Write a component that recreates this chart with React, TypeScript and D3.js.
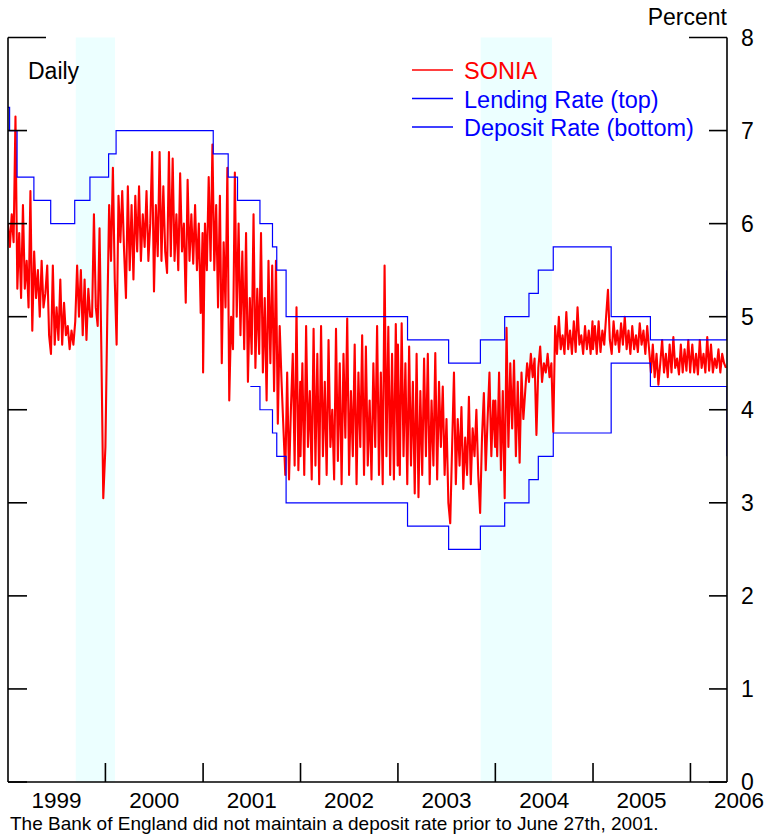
import React from "react";
import * as d3 from "d3";

// Weekly readings of SONIA (percent), each year starting at Jan 1, step 7 days
const soniaStepDays = 7;
const sonia1999 = [6.0,5.75,6.1,5.8,7.15,5.3,5.9,5.2,6.2,5.3,5.6,5.1,6.35,4.85,5.7,5.2,5.5,5.0,5.6,5.1,5.25,5.55,4.8,4.6,5.55,4.7,5.1,4.75,5.4,4.7,5.15,4.8,4.9,4.65,4.85,4.7,4.95,5.55,5.0,5.5,4.8,5.4,4.75,5.3,5.0,5.0,6.1,5.1,4.9,5.95,4.6,3.05];
const sonia2000 = [3.6,5.0,6.2,5.6,6.6,5.4,4.7,6.3,5.8,6.35,5.7,5.2,6.4,5.5,6.2,5.4,6.3,5.7,6.4,5.6,6.1,5.75,6.35,5.6,6.0,6.77,5.27,6.2,5.65,6.77,5.6,6.4,5.7,5.47,6.77,5.65,6.7,5.6,6.1,5.5,6.54,5.7,6.0,5.15,6.47,5.6,6.1,5.57,6.2,5.5,6.0,5.04,5.9];
const sonia2001 = [4.4,6.0,5.5,6.5,5.6,6.85,5.5,6.2,5.1,6.3,4.5,5.8,5.1,6.6,4.1,5.0,4.65,6.55,5.0,6.0,4.8,5.7,4.65,5.9,4.3,5.2,4.6,6.1,4.45,5.3,4.6,5.9,4.4,5.2,4.1,5.6,4.5,5.55,4.2,5.6,3.85,4.9,4.3,3.8,3.3,4.4,3.25,4.0,4.6,3.4,5.1,3.35,4.3];
const sonia2002 = [3.5,4.5,3.3,4.9,3.6,4.2,3.25,4.87,3.4,4.6,3.2,4.9,3.5,4.3,3.3,4.75,3.6,4.0,3.25,4.87,3.45,4.5,3.2,4.6,3.7,4.98,3.3,4.2,3.5,4.7,3.2,4.4,3.6,4.8,3.3,4.68,3.4,4.1,3.25,4.5,3.6,4.9,3.3,4.4,3.2,5.55,3.5,4.89,3.3,4.6,3.25,4.92,3.4];
const sonia2003 = [4.7,3.3,4.93,3.5,4.5,3.2,4.68,3.4,4.3,3.1,4.6,3.06,4.2,3.3,4.55,3.5,4.6,3.2,4.1,3.4,4.61,3.25,4.3,3.6,4.25,3.3,3.9,3.0,2.78,3.6,4.4,3.2,3.9,3.4,4.03,3.15,3.7,3.3,4.14,3.2,3.8,3.5,4.0,3.3,2.89,3.7,4.18,3.35,3.9,4.4,3.5,4.1,3.6];
const sonia2004 = [4.1,3.5,4.4,3.35,4.2,3.05,4.88,3.6,4.5,3.8,4.53,3.5,4.3,3.43,4.4,3.9,4.2,4.5,4.3,4.6,4.35,4.55,3.73,4.45,4.68,4.3,4.5,4.4,4.6,4.35,4.5,3.76,4.9,4.6,5.0,4.65,4.8,4.6,5.05,4.65,4.85,4.6,4.95,4.62,5.1,4.7,4.8,4.6,4.9,4.65,4.85,4.6,4.95];
const sonia2005 = [4.65,4.9,4.6,4.95,4.62,4.85,4.7,5.0,5.29,4.75,4.6,4.95,4.7,4.85,4.62,4.93,4.7,5.0,4.65,4.85,4.6,4.9,4.65,4.8,4.62,4.93,4.7,4.85,4.6,4.9,4.65,4.4,4.7,4.35,4.6,4.27,4.5,4.75,4.4,4.6,4.35,4.7,4.4,4.78,4.45,4.55,4.38,4.7,4.4,4.65,4.42,4.75,4.4];
const sonia2006 = [4.45,4.7,4.4,4.6,4.38,4.75,4.45,4.6,4.4,4.78,4.42,4.7,4.4,4.55,4.45,4.65,4.4,4.6,4.5,4.45];
const soniaYears = [1999, 2000, 2001, 2002, 2003, 2004, 2005, 2006];

// Standing facility rates (step changes)
const lendingDates = ["1999-01-01","1999-01-07","1999-02-04","1999-04-08","1999-06-10","1999-09-08","1999-11-04","2000-01-13","2000-02-10","2001-02-08","2001-04-05","2001-05-10","2001-08-02","2001-09-18","2001-10-04","2001-11-08","2003-02-06","2003-07-10","2003-11-06","2004-02-05","2004-05-06","2004-06-10","2004-08-05","2005-03-10","2005-08-04","2006-05-18"];
const lendingValues = [7.25,7.0,6.5,6.25,6.0,6.25,6.5,6.75,7.0,6.75,6.5,6.25,6.0,5.75,5.5,5.0,4.75,4.5,4.75,5.0,5.25,5.5,5.75,5.0,4.75,5.5];
const depositDates = ["2001-06-27","2001-08-02","2001-09-18","2001-10-04","2001-11-08","2003-02-06","2003-07-10","2003-11-06","2004-02-05","2004-05-06","2004-06-10","2004-08-05","2005-03-10","2005-08-04","2006-05-18"];
const depositValues = [4.25,4.0,3.75,3.5,3.0,2.75,2.5,2.75,3.0,3.25,3.5,3.75,4.5,4.25,3.5];

// Shaded periods
const shadeStarts = ["1999-09-12","2003-11-07"];
const shadeEnds = ["2000-02-06","2004-07-31"];

const yearLabels = ["1999","2000","2001","2002","2003","2004","2005","2006"];
const yearTicks = ["2000","2001","2002","2003","2004","2005","2006"];
const yTicks = [0,1,2,3,4,5,6,7,8];

const legendLabels = ["SONIA", "Lending Rate (top)", "Deposit Rate (bottom)"];
const legendColors = ["#ff0000", "#0000ff", "#0000ff"];

const FONT = "'Liberation Sans', Arial, Helvetica, sans-serif";

const toDate = (s: string) => new Date(s + "T00:00:00Z");

export default function App() {
  const W = 767, H = 837;
  const left = 8, right = 727, top = 37.5, bottom = 782;
  const x = d3.scaleUtc().domain([toDate("1999-01-01"), toDate("2006-05-18")]).range([left, right]);
  const y = d3.scaleLinear().domain([0, 8]).range([bottom, top]);

  const soniaArrays = [sonia1999, sonia2000, sonia2001, sonia2002, sonia2003, sonia2004, sonia2005, sonia2006];
  const sonia: { d: Date; v: number }[] = [];
  soniaArrays.forEach((arr, k) => {
    const start = Date.UTC(soniaYears[k], 0, 1);
    arr.forEach((v, i) => sonia.push({ d: new Date(start + i * soniaStepDays * 86400000), v }));
  });

  const lending = lendingDates.map((s, i) => ({ d: toDate(s), v: lendingValues[i] }));
  const deposit = depositDates.map((s, i) => ({ d: toDate(s), v: depositValues[i] }));

  const line = d3.line<{ d: Date; v: number }>().x((p) => x(p.d)).y((p) => y(p.v));
  const step = d3.line<{ d: Date; v: number }>().x((p) => x(p.d)).y((p) => y(p.v)).curve(d3.curveStepAfter);

  return (
    <svg width={W} height={H} style={{ position: "absolute", left: 0, top: 0, background: "#fff" }} fontFamily={FONT}>
      <defs>
        <clipPath id="plot">
          <rect x={left} y={top} width={right - left} height={bottom - top} />
        </clipPath>
      </defs>
      {shadeStarts.map((s, i) => (
        <rect key={s} x={x(toDate(s))} y={top} width={x(toDate(shadeEnds[i])) - x(toDate(s))} height={bottom - top} fill="#ecffff" />
      ))}
      <g clipPath="url(#plot)">
        <path d={line(sonia) || ""} fill="none" stroke="#ff0000" strokeWidth={2.1} strokeLinejoin="round" />
        <path d={step(lending) || ""} fill="none" stroke="#0000ff" strokeWidth={1.2} />
        <path d={step(deposit) || ""} fill="none" stroke="#0000ff" strokeWidth={1.2} />
      </g>
      {/* axes */}
      <g stroke="#000" strokeWidth={1.6} fill="none">
        <line x1={left} y1={top} x2={left} y2={bottom} />
        <line x1={right} y1={top} x2={right} y2={bottom} />
        <line x1={left} y1={bottom} x2={right} y2={bottom} />
        {yTicks.map((t) => (
          <g key={t}>
            <line x1={left} y1={y(t)} x2={left + (t === 8 ? 38 : 19)} y2={y(t)} />
            <line x1={right - (t === 8 ? 38 : 18)} y1={y(t)} x2={right} y2={y(t)} />
          </g>
        ))}
        {yearTicks.map((t) => (
          <line key={t} x1={x(toDate(t + "-01-01"))} y1={bottom} x2={x(toDate(t + "-01-01"))} y2={bottom - 19} />
        ))}
      </g>
      {yTicks.map((t) => (
        <text key={t} x={741} y={y(t) + 8} fontSize={23} fill="#000">{t}</text>
      ))}
      {yearLabels.map((t) => (
        <text key={t} x={x(toDate(t + "-07-02"))} y={808} fontSize={22.5} textAnchor="middle" fill="#000">{t}</text>
      ))}
      <text x={727} y={25} fontSize={23} textAnchor="end" fill="#000">Percent</text>
      <text x={28} y={79} fontSize={23} fill="#000">Daily</text>
      {legendLabels.map((l, i) => (
        <g key={l}>
          <line x1={412} x2={453} y1={70 + i * 28.5} y2={70 + i * 28.5} stroke={legendColors[i]} strokeWidth={1.6} />
          <text x={464} y={79 + i * 28.5} fontSize={23.5} fill={legendColors[i]}>{l}</text>
        </g>
      ))}
      <text x={10} y={829.5} fontSize={19} fill="#000">The Bank of England did not maintain a deposit rate prior to June 27th, 2001.</text>
    </svg>
  );
}
